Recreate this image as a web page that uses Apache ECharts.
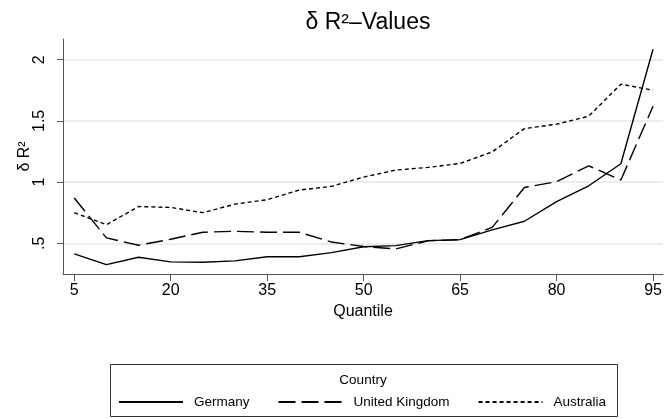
<!DOCTYPE html>
<html>
<head>
<meta charset="utf-8">
<script src="https://cdn.jsdelivr.net/npm/echarts@6/dist/echarts.min.js"></script>
<style>
html,body{margin:0;padding:0;background:#fff;}
#c{width:665px;height:419px;}
</style>
</head>
<body>
<div id="c"></div>
<script>
const quantiles = [5,10,15,20,25,30,35,40,45,50,55,60,65,70,75,80,85,90,95];
const germany   = [0.414,0.326,0.386,0.348,0.345,0.356,0.390,0.390,0.424,0.472,0.481,0.522,0.530,0.610,0.680,0.840,0.970,1.150,2.085];
const uk        = [0.870,0.544,0.484,0.533,0.590,0.598,0.590,0.590,0.510,0.474,0.454,0.520,0.530,0.630,0.956,1.003,1.133,1.017,1.620];
const australia = [0.750,0.652,0.800,0.793,0.750,0.820,0.856,0.935,0.965,1.041,1.098,1.120,1.152,1.247,1.437,1.473,1.538,1.800,1.750];
const xTicks = [5,20,35,50,65,80,95];
const yTicks = [0.5,1,1.5,2];
const seriesNames = ['Germany','United Kingdom','Australia'];

const FONT = 'Liberation Sans, Arial, Helvetica, sans-serif';
const pair = arr => quantiles.map((q,i)=>[q, arr[i]]);
const fmtY = v => (v < 1 ? String(v).replace(/^0/, '') : String(v));

const chart = echarts.init(document.getElementById('c'), null, {renderer:'canvas'});
chart.setOption({
  animation:false,
  backgroundColor:'#fff',
  textStyle:{fontFamily:FONT},
  title:{
    text:'δ R²–Values',
    left:363, top:6, textAlign:'center',
    textStyle:{fontFamily:FONT, fontSize:23, fontWeight:'normal', color:'#000'}
  },
  grid:{left:63, right:2, top:39, bottom:145, containLabel:false},
  xAxis:{
    type:'value', min:3.25, max:96.55,
    name:'Quantile', nameLocation:'middle', nameGap:30, nameMoveOverlap:false,
    nameTextStyle:{fontFamily:FONT, fontSize:16, color:'#000'},
    axisLine:{show:true, onZero:false, lineStyle:{color:'#555', width:1}},
    axisTick:{show:true, length:7, customValues:xTicks, lineStyle:{color:'#555', width:1}},
    axisLabel:{customValues:xTicks, margin:9, fontFamily:FONT, fontSize:16, color:'#000'},
    splitLine:{show:false}
  },
  yAxis:{
    type:'value', min:0.249, max:2.169,
    name:'δ R²', nameLocation:'middle', nameGap:30, nameRotate:90, nameMoveOverlap:false,
    nameTextStyle:{fontFamily:FONT, fontSize:16, color:'#000'},
    axisLine:{show:true, onZero:false, lineStyle:{color:'#555', width:1}},
    axisTick:{show:true, length:6, customValues:yTicks, lineStyle:{color:'#555', width:1}},
    axisLabel:{customValues:yTicks, rotate:90, margin:15, fontFamily:FONT, fontSize:16, color:'#000', formatter:fmtY},
    splitLine:{show:true, customValues:yTicks, lineStyle:{color:'#e6e6e6', width:1.5}}
  },
  legend:{
    data:seriesNames, orient:'horizontal', left:118, top:395, padding:0,
    itemWidth:64, itemHeight:14, itemGap:28,
    itemStyle:{color:'rgba(0,0,0,0)', borderWidth:0, opacity:0},
    textStyle:{fontFamily:FONT, fontSize:13.5, color:'#000', padding:[0,0,0,6]}
  },
  graphic:[
    {type:'rect', shape:{x:110.5, y:364.5, width:507, height:52}, style:{fill:'none', stroke:'#333', lineWidth:1}, silent:true, z:-1},
    {type:'text', x:363, y:380, style:{text:'Country', fontFamily:FONT, fontSize:13.5, fill:'#000', textAlign:'center', textVerticalAlign:'middle'}}
  ],
  series:[
    {name:seriesNames[0], type:'line', data:pair(germany), symbol:'none', lineStyle:{color:'#000', width:1.4, type:'solid'}, itemStyle:{color:'#000'}},
    {name:seriesNames[1], type:'line', data:pair(uk), symbol:'none', lineStyle:{color:'#000', width:1.4, type:[17,6]}, itemStyle:{color:'#000'}},
    {name:seriesNames[2], type:'line', data:pair(australia), symbol:'none', lineStyle:{color:'#000', width:1.4, type:[4,3]}, itemStyle:{color:'#000'}}
  ]
});
</script>
</body>
</html>
